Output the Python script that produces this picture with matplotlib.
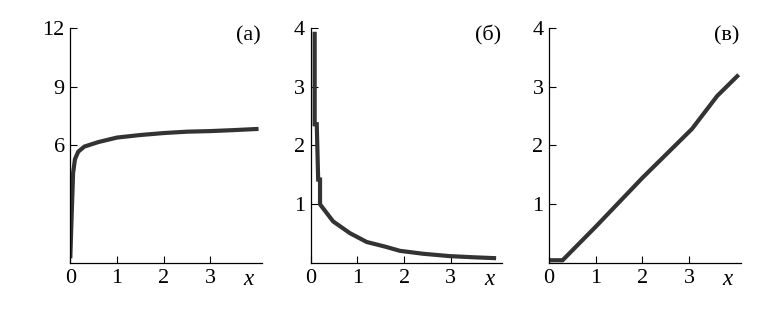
import matplotlib
matplotlib.use("Agg")
import matplotlib.pyplot as plt

# panel (a)
xa = [0.0, 0.03, 0.06, 0.1, 0.17, 0.3, 0.6, 1.0, 1.5, 2.0, 2.5, 3.0, 3.5, 4.03]
ya = [0.25, 2.5, 4.6, 5.3, 5.68, 5.94, 6.17, 6.4, 6.53, 6.63, 6.7, 6.73, 6.78, 6.84]

# panel (б)
xb = [0.085, 0.085, 0.13, 0.16, 0.2, 0.2, 0.48, 0.84, 1.2, 1.6, 1.91, 2.41, 2.98, 3.5, 3.97]
yb = [3.93, 2.36, 2.36, 1.42, 1.42, 1.0, 0.71, 0.51, 0.36, 0.28, 0.21, 0.16, 0.12, 0.1, 0.085]

# panel (в)
xc = [0.0, 0.29, 1.0, 2.0, 3.06, 3.6, 4.06]
yc = [0.05, 0.05, 0.62, 1.45, 2.28, 2.84, 3.2]

labels = ["(а)", "(б)", "(в)"]
yticks_list = [[6, 9, 12], [1, 2, 3, 4], [1, 2, 3, 4]]
ylims = [12, 4, 4]
xticks = [0, 1, 2, 3]

plt.rcParams["font.family"] = ["Liberation Serif", "DejaVu Serif"]

fig = plt.figure(figsize=(7.6, 3.29), dpi=100)
lefts = [0.0925, 0.4088, 0.7224]
series = [(xa, ya), (xb, yb), (xc, yc)]
for i, (x, y) in enumerate(series):
    ax = fig.add_axes([lefts[i], 0.2, 0.252, 0.716])
    ax.plot(x, y, color="#333333", lw=3.0, solid_joinstyle="miter",
            solid_capstyle="butt")
    ax.set_xlim(0, 4.1)
    ax.set_ylim(0, ylims[i])
    ax.set_xticks(xticks)
    ax.set_yticks(yticks_list[i])
    ax.tick_params(direction="in", length=5, width=0.8, labelsize=16, pad=4)
    for s in ["top", "right"]:
        ax.spines[s].set_visible(False)
    for s in ["left", "bottom"]:
        ax.spines[s].set_linewidth(0.9)
    ax.text(3.82, -0.07, "x", style="italic", fontsize=16.5, ha="center", va="center",
            transform=ax.get_xaxis_transform())
    ax.text(0.995, 0.965, labels[i], fontsize=16, ha="right", va="center",
            transform=ax.transAxes)

fig.savefig("out.png", dpi=100)
